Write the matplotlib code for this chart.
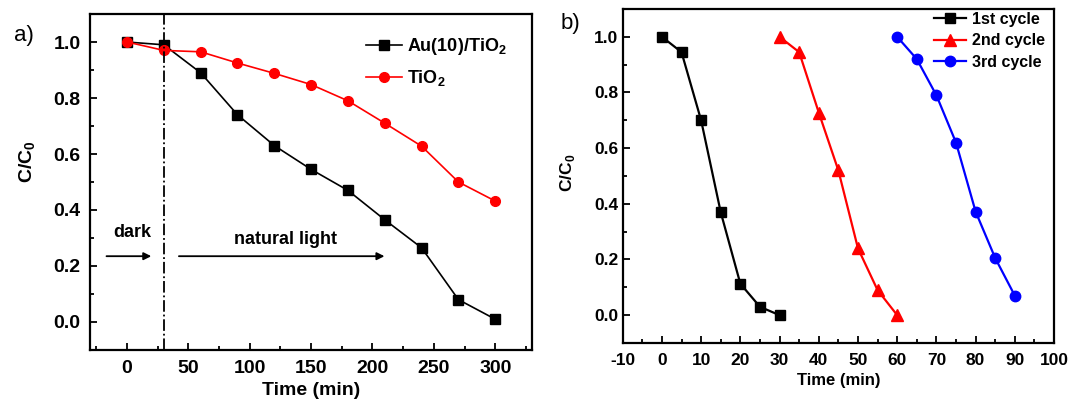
import matplotlib
matplotlib.use("Agg")
import matplotlib.pyplot as plt
from matplotlib.ticker import MultipleLocator

plt.rcParams["font.family"] = ["Liberation Sans", "DejaVu Sans"]
plt.rcParams["mathtext.fontset"] = "custom"
plt.rcParams["mathtext.rm"] = "Liberation Sans:bold"
plt.rcParams["mathtext.bf"] = "Liberation Sans:bold"
plt.rcParams["axes.unicode_minus"] = False

# panel a data
time_a = [0, 30, 60, 90, 120, 150, 180, 210, 240, 270, 300]
au_tio2 = [1.0, 0.99, 0.89, 0.74, 0.63, 0.545, 0.47, 0.365, 0.265, 0.08, 0.01]
tio2 = [1.0, 0.97, 0.965, 0.925, 0.888, 0.848, 0.79, 0.71, 0.628, 0.5, 0.432]

# panel b data
time_1 = [0, 5, 10, 15, 20, 25, 30]
cycle_1 = [1.0, 0.945, 0.70, 0.37, 0.113, 0.03, 0.0]
time_2 = [30, 35, 40, 45, 50, 55, 60]
cycle_2 = [1.0, 0.945, 0.728, 0.52, 0.24, 0.09, 0.0]
time_3 = [60, 65, 70, 75, 80, 85, 90]
cycle_3 = [1.0, 0.92, 0.79, 0.62, 0.372, 0.205, 0.07]

yticks = [0.0, 0.2, 0.4, 0.6, 0.8, 1.0]
ytick_labels = ["0.0", "0.2", "0.4", "0.6", "0.8", "1.0"]

fig = plt.figure(figsize=(10.69, 4.12), dpi=100)
ax1 = fig.add_axes([0.0844, 0.1505, 0.4133, 0.8155])
ax2 = fig.add_axes([0.5825, 0.1675, 0.4035, 0.8107])


def style_axes(ax, size, ypad, xpad):
    for sp in ax.spines.values():
        sp.set_linewidth(1.6)
    ax.tick_params(which="both", direction="in", top=False, right=False,
                   labelsize=size, width=1.3)
    ax.tick_params(which="major", length=5)
    ax.tick_params(which="minor", length=3)
    ax.tick_params(axis="y", pad=ypad)
    ax.tick_params(axis="x", pad=xpad)
    for lab in ax.get_xticklabels() + ax.get_yticklabels():
        lab.set_fontweight("bold")


# ---- panel a ----
ax1.plot(time_a, au_tio2, color="black", marker="s", markersize=6.5, lw=1.2,
         label="Au(10)/TiO$_2$")
ax1.plot(time_a, tio2, color="red", marker="o", markersize=7, lw=1.2,
         label="TiO$_2$")
ax1.axvline(30, color="black", lw=1.3, ls="-.")
ax1.annotate("", xy=(22, 0.235), xytext=(-19, 0.235),
             arrowprops=dict(arrowstyle="-|>", color="black", lw=1.3,
                             mutation_scale=11))
ax1.annotate("", xy=(212, 0.235), xytext=(40, 0.235),
             arrowprops=dict(arrowstyle="-|>", color="black", lw=1.3,
                             mutation_scale=11))
ax1.text(4.5, 0.32, "dark", ha="center", va="center", fontsize=13,
         fontweight="bold")
ax1.text(129, 0.295, "natural light", ha="center", va="center", fontsize=13,
         fontweight="bold")

ax1.set_xlim(-30, 330)
ax1.set_ylim(-0.1, 1.1)
ax1.set_xticks([0, 50, 100, 150, 200, 250, 300])
ax1.set_yticks(yticks)
ax1.set_yticklabels(ytick_labels)
ax1.xaxis.set_minor_locator(MultipleLocator(25))
ax1.yaxis.set_minor_locator(MultipleLocator(0.1))
style_axes(ax1, 14, 7, 7)
ax1.set_xlabel("Time (min)", fontsize=14, fontweight="bold")
ax1.set_ylabel("C/C$_0$", fontsize=14, fontweight="bold")
ax1.yaxis.set_label_coords(-0.118, 0.56)
leg = ax1.legend(loc="upper right", frameon=False, fontsize=13,
                 handlelength=2.0, handletextpad=0.3, borderaxespad=0,
                 labelspacing=0.6, bbox_to_anchor=(0.96, 0.955))
for t in leg.get_texts():
    t.set_fontweight("bold")
fig.text(0.013, 0.915, "a)", fontsize=16, va="center")

# ---- panel b ----
ax2.plot(time_1, cycle_1, color="black", marker="s", markersize=7, lw=1.6,
         label="1st cycle")
ax2.plot(time_2, cycle_2, color="red", marker="^", markersize=8.5, lw=1.6,
         label="2nd cycle")
ax2.plot(time_3, cycle_3, color="blue", marker="o", markersize=7.5, lw=1.6,
         label="3rd cycle")

ax2.set_xlim(-10, 100)
ax2.set_ylim(-0.1, 1.1)
ax2.set_xticks(range(-10, 101, 10))
ax2.set_yticks(yticks)
ax2.set_yticklabels(ytick_labels)
ax2.xaxis.set_minor_locator(MultipleLocator(5))
ax2.yaxis.set_minor_locator(MultipleLocator(0.1))
style_axes(ax2, 12.5, 3, 7)
ax2.set_xlabel("Time (min)", fontsize=12, fontweight="bold")
ax2.set_ylabel("C/C$_0$", fontsize=12.5, fontweight="bold")
ax2.yaxis.set_label_coords(-0.106, 0.51)
leg2 = ax2.legend(loc="upper right", frameon=False, fontsize=11.5,
                  handlelength=2.0, handletextpad=0.4, borderaxespad=0,
                  labelspacing=0.4, bbox_to_anchor=(0.995, 1.01))
for t in leg2.get_texts():
    t.set_fontweight("bold")
fig.text(0.524, 0.942, "b)", fontsize=16, va="center")

fig.savefig("out.png", dpi=100)
